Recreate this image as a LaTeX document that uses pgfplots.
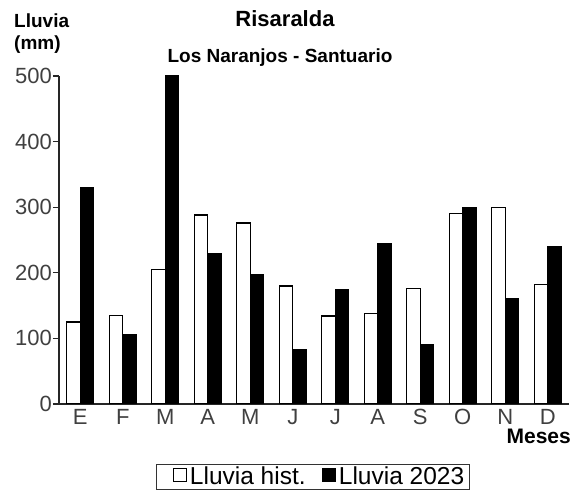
\documentclass[border=0pt]{standalone}
\usepackage{fontspec}
\setmainfont{Liberation Sans}
\usepackage{pgfplots}
\pgfplotsset{compat=1.18}
\begin{document}
\begin{tikzpicture}[x=1bp,y=1bp]
\useasboundingbox (0,0) rectangle (578,491);
\begin{axis}[
  at={(59bp,87bp)}, anchor=south west,
  scale only axis, width=510bp, height=328bp,
  xmin=-0.5, xmax=11.5, ymin=0, ymax=500,
  axis lines*=left,
  axis line style={black!85, line width=1.2bp},
  ybar, bar width=13.5bp,
  xtick={0,...,11},
  xticklabels={E,F,M,A,M,J,J,A,S,O,N,D},
  minor xtick={-0.5,0.5,...,11.5},
  ytick={0,100,...,500},
  tick align=outside,
  major tick length=6bp, minor tick length=6bp,
  xtick style={draw=none},
  minor x tick style={black!85, line width=1.2bp},
  ytick style={black!85, line width=1.2bp},
  tick label style={font=\fontsize{22bp}{26bp}\selectfont, text=black!75},
  /pgf/number format/assume math mode=true,
  yticklabel style={inner xsep=1bp},
  xticklabel style={inner ysep=0bp, yshift=1bp},
  legend style={at={(0.498,-0.262)}, anchor=south, draw=black!80, line width=1bp,
    font=\fontsize{24.5bp}{28bp}\selectfont, legend columns=2,
    inner xsep=4bp, inner ysep=1bp,
    nodes={inner xsep=1bp},
    /tikz/every even column/.append style={column sep=3bp}},
  legend image code/.code={\path (0bp,0bp) (27bp,0bp); \draw[#1, line width=1bp] (12bp,-5bp) rectangle (25.5bp,8.5bp);},
]
\addplot[draw=black, fill=white, line width=1.2bp, bar shift=-6.75bp] coordinates {
 (0,125) (1,135) (2,205) (3,288) (4,276) (5,180) (6,134) (7,138) (8,176) (9,290) (10,300) (11,182)};
\addlegendentry{Lluvia hist.}
\addplot[draw=black, fill=black, line width=1.2bp, bar shift=6.75bp] coordinates {
 (0,330) (1,106) (2,500) (3,230) (4,198) (5,83) (6,174) (7,245) (8,91) (9,300) (10,161) (11,240)};
\addlegendentry{Lluvia 2023}
\end{axis}
\node[anchor=base, inner sep=0, font=\bfseries\fontsize{22bp}{26bp}\selectfont] at (285,464) {Risaralda};
\node[anchor=base, inner sep=0, font=\bfseries\fontsize{19bp}{23bp}\selectfont] at (280,428) {Los Naranjos - Santuario};
\node[anchor=base west, inner sep=0, font=\bfseries\fontsize{19bp}{23bp}\selectfont] at (14,463) {Lluvia};
\node[anchor=base west, inner sep=0, font=\bfseries\fontsize{19bp}{23bp}\selectfont] at (14,441) {(mm)};
\node[anchor=base east, inner sep=0, font=\bfseries\fontsize{21bp}{25bp}\selectfont] at (571,47) {Meses};
\end{tikzpicture}
\end{document}
